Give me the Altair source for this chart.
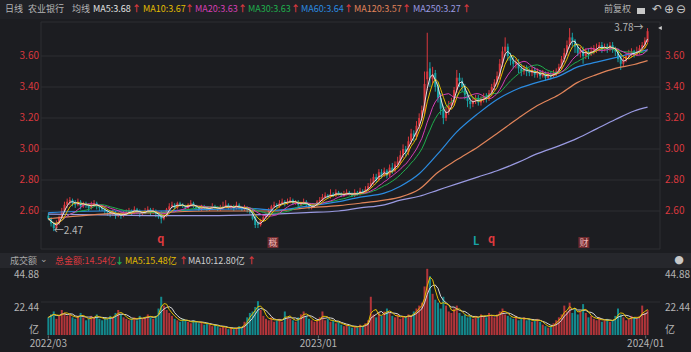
import altair as alt
import pandas as pd

# ---------------- data (2-trading-day candles, prices in cents) ----------------
closes = [
    255, 252, 249, 252,
    256, 260, 264, 266, 267,
    265, 264, 266, 263, 265, 264, 262, 264, 265, 263, 262,
    261, 260, 259, 258, 259, 257, 258, 257, 258, 259,
    260, 259, 261, 260, 258, 259, 260, 261, 259, 260, 258,
    256, 255, 257,
    261, 263, 264, 262, 265, 264, 263, 262, 264, 265, 263, 262, 261, 263, 262, 261, 262, 263, 262, 261,
    262, 263, 264, 262, 263, 262, 264, 262, 261, 262, 261, 259,
    255, 251, 251, 254, 256,
    258, 260, 263, 264, 263, 265, 266,
    265, 266, 267, 265, 266, 264, 265, 266,
    264, 262, 263, 264,
    266, 267, 269, 270, 269, 271, 270, 272, 271, 270, 271, 272, 271, 270, 272, 271, 273, 272, 274,
    276, 278, 282, 280, 285, 283, 286,
    283, 288, 286, 290,
    292, 296, 300, 298, 305, 310, 308, 315, 320, 325,
    342, 350,
    346, 348, 340,
    333, 326, 320, 324, 328, 330,
    338, 346, 344, 340,
    335, 331, 329,
    331, 333, 330, 332, 334, 333,
    336, 340, 343, 347, 355,
    363, 366, 360,
    357, 355, 356, 352, 350, 352, 350,
    349, 351, 348, 350, 347, 349, 346, 348, 347, 349, 350, 353,
    358, 362, 367, 372, 370, 366,
    362, 364, 360, 363, 361, 363, 365,
    365, 367, 364, 366, 365, 367, 364, 363,
    358, 355, 357, 360,
    361, 363, 361, 363,
    365, 367, 370, 376,
]
opens = [
    257, 255, 252, 249,
    252, 256, 260, 264, 266,
    267, 265, 264, 266, 263, 265, 264, 262, 264, 265, 263,
    262, 261, 260, 259, 258, 259, 257, 258, 257, 258,
    259, 260, 259, 261, 260, 258, 259, 260, 261, 259, 260,
    258, 259, 255,
    257, 261, 263, 264, 262, 265, 264, 263, 262, 264, 265, 263, 262, 261, 263, 262, 261, 262, 263, 262,
    261, 262, 263, 264, 262, 263, 262, 264, 262, 261, 262, 261,
    261, 256, 252, 251, 254,
    256, 258, 260, 263, 264, 263, 265,
    266, 265, 266, 267, 265, 266, 264, 265,
    266, 264, 262, 263,
    264, 266, 267, 269, 270, 269, 271, 270, 272, 271, 270, 271, 272, 271, 270, 272, 271, 273, 272,
    274, 276, 278, 282, 280, 285, 283,
    286, 283, 288, 286,
    290, 292, 296, 300, 298, 305, 310, 308, 315, 320,
    325, 345,
    352, 345, 349,
    341, 333, 326, 320, 324, 328,
    330, 338, 346, 344,
    340, 335, 331,
    329, 331, 333, 330, 332, 334,
    333, 336, 340, 343, 347,
    355, 363, 366,
    360, 357, 355, 356, 352, 350, 352,
    350, 349, 351, 348, 350, 347, 349, 346, 348, 347, 349, 350,
    353, 358, 362, 367, 372, 370,
    366, 362, 364, 360, 363, 361, 363,
    364, 365, 367, 364, 366, 365, 367, 364,
    363, 360, 355, 357,
    360, 361, 363, 361,
    363, 365, 367, 369,
]
highs = [
    259, 256, 253, 254,
    257, 262, 266, 268, 269,
    268, 267, 268, 267, 266, 266, 265, 266, 267, 266, 264,
    263, 262, 261, 260, 261, 260, 259, 259, 260, 261,
    262, 261, 263, 262, 261, 260, 262, 263, 262, 262, 261,
    259, 260, 258,
    262, 265, 266, 265, 266, 266, 265, 264, 265, 267, 266, 264, 263, 264, 264, 263, 263, 265, 264, 263,
    264, 266, 267, 265, 264, 264, 266, 265, 263, 264, 263, 262,
    262, 257, 253, 255, 257,
    259, 262, 264, 266, 265, 267, 268,
    267, 268, 269, 268, 267, 267, 266, 268,
    267, 265, 264, 265,
    267, 269, 271, 272, 271, 274, 272, 274, 273, 272, 273, 274, 273, 272, 274, 273, 275, 274, 276,
    278, 281, 284, 284, 287, 287, 288,
    287, 290, 291, 292,
    295, 299, 303, 302, 308, 313, 312, 318, 323, 328,
    350, 375,
    356, 353, 351,
    343, 336, 328, 327, 331, 333,
    340, 351, 349, 346,
    342, 337, 333,
    333, 335, 335, 334, 336, 336,
    338, 342, 345, 350, 358,
    366, 372, 368,
    362, 360, 358, 358, 355, 354, 354,
    352, 353, 353, 352, 351, 351, 350, 350, 350, 351, 352, 355,
    360, 365, 370, 378, 375, 371,
    368, 366, 366, 365, 365, 366, 367,
    368, 369, 369, 368, 368, 369, 369, 366,
    365, 362, 359, 362,
    364, 365, 364, 366,
    367, 369, 372, 378,
]
lows = [
    254, 250, 247, 248,
    251, 255, 259, 262, 264,
    263, 262, 263, 261, 262, 262, 260, 261, 263, 261, 260,
    260, 258, 257, 256, 257, 255, 256, 255, 256, 257,
    258, 257, 258, 258, 256, 257, 258, 259, 257, 258, 256,
    255, 252, 254,
    256, 260, 262, 261, 261, 263, 262, 261, 261, 263, 262, 261, 260, 260, 261, 260, 260, 261, 261, 260,
    260, 261, 262, 261, 261, 260, 261, 261, 260, 260, 259, 258,
    254, 249, 249, 250, 253,
    255, 257, 259, 262, 262, 262, 264,
    263, 264, 265, 264, 264, 263, 263, 264,
    263, 261, 261, 262,
    263, 265, 266, 268, 268, 268, 269, 269, 270, 269, 269, 270, 270, 269, 269, 270, 270, 271, 271,
    273, 275, 277, 278, 279, 281, 282,
    281, 282, 284, 285,
    288, 290, 294, 295, 296, 303, 305, 306, 313, 318,
    322, 338,
    340, 342, 337,
    330, 322, 316, 318, 322, 326,
    328, 336, 340, 337,
    332, 327, 326,
    327, 329, 328, 328, 330, 330,
    331, 334, 338, 341, 345,
    353, 360, 357,
    354, 352, 352, 349, 347, 348, 347,
    347, 347, 346, 346, 345, 346, 344, 345, 345, 346, 347, 349,
    351, 356, 360, 365, 366, 362,
    360, 359, 355, 358, 358, 360, 361,
    362, 363, 362, 363, 362, 363, 362, 360,
    356, 351, 353, 356,
    358, 359, 359, 360,
    361, 363, 365, 368,
]
# turnover, 亿元
volumes = [
    12, 14, 16, 11, 13,
    17, 15, 13, 14, 12, 11, 13, 15,
    12, 10, 11, 13, 12, 14, 11, 10,
    12, 11, 13, 12, 15, 17, 14, 12, 11, 10,
    11, 12, 10, 13, 11, 12, 14, 12, 11, 13,
    18, 26, 20, 17, 15,
    13, 11, 10, 9, 11, 10, 9, 8, 10, 9,
    8, 9, 7, 8, 7, 6, 7, 6,
    5, 6, 5, 4, 5, 4, 5, 6, 5,
    9, 12, 15, 16, 19, 23, 17, 13,
    11, 10, 12, 9, 10, 11, 9, 16, 12, 11,
    10, 9, 12, 14, 16, 13, 11, 10, 9, 10,
    12, 16, 10, 11, 9, 10, 8, 9, 7, 6, 7, 6, 5, 6, 5, 7, 6, 8,
    10, 26, 14, 12, 15, 13, 16,
    18, 15, 13, 12, 14, 11, 13, 12, 14, 13, 16, 18, 20, 22,
    33, 45, 40, 28, 24,
    22, 18, 26, 20, 16, 15,
    18, 20, 15, 13, 14, 12, 13, 11, 13, 12,
    14, 13, 12, 15, 13, 12, 14, 16, 18, 14,
    13, 12, 11, 13, 10, 11, 12, 10, 11, 9,
    10, 11, 9, 7, 6, 5, 6, 8, 10, 12,
    14, 20, 16, 22, 15, 18, 14, 16, 21, 15,
    12, 13, 11, 10, 12, 9, 10, 11, 9, 10,
    13, 18, 14, 12, 10, 11, 13, 12,
    11, 13, 20, 15, 17,
]

# long moving averages (candle index -> value)
ma_idx = [0, 20, 40, 60, 76, 84, 96, 108, 116, 125, 131, 138, 145, 152, 160, 167, 175, 182, 190, 197, 204, 211, 218, 223]
ma60 = [2.59, 2.60, 2.60, 2.61, 2.615, 2.605, 2.63, 2.66, 2.69, 2.715, 2.76, 2.84, 2.97, 3.11, 3.23, 3.32, 3.39, 3.43, 3.47, 3.53, 3.56, 3.59, 3.62, 3.64]
ma120 = [2.55, 2.58, 2.59, 2.60, 2.60, 2.60, 2.62, 2.635, 2.65, 2.67, 2.69, 2.74, 2.85, 2.93, 3.015, 3.10, 3.20, 3.28, 3.35, 3.43, 3.48, 3.52, 3.545, 3.57]
ma250 = [2.58, 2.575, 2.57, 2.57, 2.575, 2.58, 2.59, 2.60, 2.62, 2.64, 2.67, 2.695, 2.735, 2.775, 2.82, 2.86, 2.915, 2.97, 3.02, 3.07, 3.13, 3.19, 3.245, 3.27]

price_ticks = [2.60, 2.80, 3.00, 3.20, 3.40, 3.60]
vol_ticks = [44.88, 22.44]
date_idx = [0, 100.5, 222.3]
date_labels = ["2022/03", "2023/01", "2024/01"]
extreme_idx = [2, 223]
extreme_val = [2.47, 3.78]
marker_idx = [41.8, 83.6, 159.2, 164.9, 199.3]
marker_txt = ["q", "概", "L", "q", "财"]

# ---------------- styling ----------------
FONT = "Noto Sans CJK SC"
BG = "#1c1d21"
RED = "#d9383e"
TEAL = "#17a2a6"
VRED = "#b3353a"
VTEAL = "#138a8e"
GRID = "#2c2e33"
GRAY = "#b4b4b4"
C5, C10, C20, C30 = "#e2e2e2", "#e3bd00", "#d43fb4", "#1fae4c"
C60, C120, C250 = "#2b8be0", "#e0845a", "#9a9ae2"

W, H = 691, 352
SP = 2.7265
X0 = 44
xs = alt.Scale(domain=[-X0 / SP, (W - X0) / SP], nice=False, zero=False)
PPU = 155.0
ps = alt.Scale(domain=[3.60 - (H - 56) / PPU, 3.60 + 56 / PPU], nice=False, zero=False)
VPU = 33 / 22.44
vs = alt.Scale(domain=[-(H - 335) / VPU, 335 / VPU], nice=False, zero=False)

N = len(closes)
df = pd.DataFrame({
    "i": list(range(N)),
    "o": [v / 100 for v in opens],
    "h": [v / 100 for v in highs],
    "l": [v / 100 for v in lows],
    "c": [v / 100 for v in closes],
    "v": volumes,
})
df["cb"] = [c if c != o else c + 0.004 for o, c in zip(df["o"], df["c"])]
df["z"] = 0.0

X = alt.X("i:Q", scale=xs, axis=None)
up = alt.datum.c >= alt.datum.o
candle_col = alt.when(up).then(alt.value(RED)).otherwise(alt.value(TEAL))
vol_col = alt.when(up).then(alt.value(VRED)).otherwise(alt.value(VTEAL))

one = pd.DataFrame({"k": [0]})


def txt(s, x, y, color, size=9, align="left", weight="normal", font=FONT):
    return alt.Chart(one).mark_text(
        align=align, baseline="middle", fontSize=size, font=font,
        color=color, fontWeight=weight,
    ).encode(x=alt.value(x), y=alt.value(y), text=alt.value(s))


def box(x1, x2, y1, y2, fill, stroke=None):
    kw = {"fill": fill}
    if stroke is not None:
        kw = {"fill": "transparent", "stroke": stroke, "strokeWidth": 1}
    return alt.Chart(one).mark_rect(**kw).encode(
        x=alt.value(x1), x2=alt.value(x2), y=alt.value(y1), y2=alt.value(y2))


layers = []
# background bands
layers.append(box(0, W, 0, 19, "#202126"))
layers.append(box(0, W, 253, 268, "#26272c"))
layers.append(box(41, 660, 22, 249, None, stroke=GRID))

# price grid + labels
pt = pd.DataFrame({"t": price_ticks})
layers.append(alt.Chart(pt).mark_rule(color=GRID, strokeWidth=1).encode(
    y=alt.Y("t:Q", scale=ps, axis=None), x=alt.value(41), x2=alt.value(660)))
layers.append(alt.Chart(pt).mark_text(align="right", baseline="middle", fontSize=10, font=FONT, color=RED).encode(
    y=alt.Y("t:Q", scale=ps, axis=None), x=alt.value(39), text=alt.Text("t:Q", format=".2f")))
layers.append(alt.Chart(pt).mark_text(align="left", baseline="middle", fontSize=10, font=FONT, color=RED).encode(
    y=alt.Y("t:Q", scale=ps, axis=None), x=alt.value(665), text=alt.Text("t:Q", format=".2f")))

# candles
base = alt.Chart(df)
layers.append(base.mark_rule(strokeWidth=1).encode(
    x=X, y=alt.Y("l:Q", scale=ps, axis=None), y2="h:Q", color=candle_col))
layers.append(base.mark_bar(size=2).encode(
    x=X, y=alt.Y("o:Q", scale=ps, axis=None), y2="cb:Q", color=candle_col))

# long MAs
dma = pd.DataFrame({"i": ma_idx, "m60": ma60, "m120": ma120, "m250": ma250})
for fld, col in [("m250", C250), ("m120", C120), ("m60", C60)]:
    layers.append(alt.Chart(dma).mark_line(strokeWidth=1.2, color=col, interpolate="monotone").encode(
        x=X, y=alt.Y(f"{fld}:Q", scale=ps, axis=None)))

# short MAs computed from the closes
for name, frame, col in [("m30", 14, C30), ("m20", 9, C20), ("m10", 4, C10), ("m5", 2, C5)]:
    layers.append(base.transform_window(
        **{name: "mean(c)"}, frame=[-frame, 0], sort=[alt.SortField("i")]
    ).mark_line(strokeWidth=1, color=col).encode(x=X, y=alt.Y(f"{name}:Q", scale=ps, axis=None)))

# extreme labels
ex = pd.DataFrame({"i": extreme_idx, "p": extreme_val})
ex["t"] = ["←" + f"{extreme_val[0]:.2f}", f"{extreme_val[1]:.2f}" + "→"]
layers.append(alt.Chart(ex.iloc[[0]]).mark_text(align="left", baseline="middle", fontSize=10, font=FONT, color=GRAY).encode(
    x=X, y=alt.Y("p:Q", scale=ps, axis=None), text="t:N"))
layers.append(alt.Chart(ex.iloc[[1]]).mark_text(align="right", baseline="middle", fontSize=10, font=FONT, color=GRAY, dx=-4).encode(
    x=X, y=alt.Y("p:Q", scale=ps, axis=None), text="t:N"))
layers.append(alt.Chart(one).mark_point(shape="triangle-left", filled=True, size=18, color="#d0d0d0", opacity=1).encode(
    x=alt.value(660), y=alt.value(28)))

# event markers
mk = pd.DataFrame({"i": marker_idx, "t": marker_txt})
boxed = mk[mk["t"].isin(["概", "财"])]
plain_red = mk[mk["t"] == "q"]
plain_teal = mk[mk["t"] == "L"]
layers.append(alt.Chart(boxed).mark_point(shape="square", filled=True, size=120, color="#6e2a2f", opacity=1).encode(
    x=X, y=alt.value(242.5)))
layers.append(alt.Chart(boxed).mark_text(fontSize=9, font=FONT, color="#f0b4b4", baseline="middle").encode(
    x=X, y=alt.value(242.5), text="t:N"))
layers.append(alt.Chart(plain_red).mark_text(fontSize=11, font=FONT, color="#e03a3f", baseline="middle", fontWeight="bold").encode(
    x=X, y=alt.value(240), text="t:N"))
layers.append(alt.Chart(plain_teal).mark_text(fontSize=11, font=FONT, color="#17a2a6", baseline="middle", fontWeight="bold").encode(
    x=X, y=alt.value(242), text="t:N"))

# volume panel
vt = pd.DataFrame({"t": vol_ticks})
layers.append(alt.Chart(vt.iloc[[1]]).mark_rule(color=GRID, strokeWidth=1).encode(
    y=alt.Y("t:Q", scale=vs, axis=None), x=alt.value(41), x2=alt.value(660)))
layers.append(alt.Chart(vt).mark_text(align="right", baseline="middle", fontSize=10, font=FONT, color=GRAY, dy=6).encode(
    y=alt.Y("t:Q", scale=vs, axis=None), x=alt.value(39), text=alt.Text("t:Q", format=".2f")))
layers.append(alt.Chart(vt).mark_text(align="left", baseline="middle", fontSize=10, font=FONT, color=GRAY, dy=6).encode(
    y=alt.Y("t:Q", scale=vs, axis=None), x=alt.value(665), text=alt.Text("t:Q", format=".2f")))
layers.append(txt("亿", 39, 330, GRAY, size=10, align="right"))
layers.append(txt("亿", 665, 330, GRAY, size=10))
layers.append(base.mark_bar(size=2).encode(
    x=X, y=alt.Y("v:Q", scale=vs, axis=None), y2="z:Q", color=vol_col))
for name, frame, col in [("vm10", 4, "#d8d8d8"), ("vm5", 2, C10)]:
    layers.append(base.transform_window(
        **{name: "mean(v)"}, frame=[-frame, 0], sort=[alt.SortField("i")]
    ).mark_line(strokeWidth=1, color=col).encode(x=X, y=alt.Y(f"{name}:Q", scale=vs, axis=None)))

# date axis
dd = pd.DataFrame({"i": date_idx, "t": date_labels})
layers.append(alt.Chart(dd).mark_tick(orient="vertical", size=3, thickness=1, color="#8a8a8a").encode(
    x=X, y=alt.value(337)))
layers.append(alt.Chart(dd).mark_text(baseline="middle", fontSize=10, font=FONT, color=GRAY).encode(
    x=X, y=alt.value(344), text="t:N"))

# header texts
layers += [
    txt("日线", 5, 9, GRAY), txt("农业银行", 28, 9, GRAY), txt("均线", 72, 9, GRAY),
    txt("MA5:3.68", 93, 9, C5), txt("↑", 132, 9, RED, weight="bold"),
    txt("MA10:3.67", 143, 9, C10), txt("↑", 185, 9, RED, weight="bold"),
    txt("MA20:3.63", 195, 9, C20), txt("↑", 238, 9, RED, weight="bold"),
    txt("MA30:3.63", 248, 9, C30), txt("↑", 291, 9, RED, weight="bold"),
    txt("MA60:3.64", 301, 9, C60), txt("↑", 344, 9, RED, weight="bold"),
    txt("MA120:3.57", 354, 9, C120), txt("↑", 402, 9, RED, weight="bold"),
    txt("MA250:3.27", 413, 9, C250), txt("↑", 462, 9, RED, weight="bold"),
    txt("前复权", 604, 9, GRAY),
    txt("↶", 652, 9, "#c8c8c8", size=12, font="DejaVu Sans"),
    txt("⊕", 664, 9, "#c8c8c8", size=12, font="DejaVu Sans"),
    txt("⊖", 676, 9, "#c8c8c8", size=12, font="DejaVu Sans"),
    box(637, 645, 8, 14, "#c8c8c8"),
    txt("成交额", 10, 261, "#a8a8a8"), txt("⌄", 40, 259, "#a8a8a8", font="DejaVu Sans"),
    txt("总金额:14.54亿", 55, 261, RED), txt("↓", 115, 261, "#1fb04f", weight="bold"),
    txt("MA5:15.48亿", 125, 261, C10), txt("↑", 179, 261, RED, weight="bold"),
    txt("MA10:12.80亿", 188, 261, "#cfcfcf"), txt("↑", 247, 261, RED, weight="bold"),
    txt("●", 679, 260, "#c8c8c8", size=11, align="center", font="DejaVu Sans"),
]

chart = alt.layer(*layers).resolve_scale(y="independent").properties(
    width=W, height=H, autosize=alt.AutoSizeParams(type="none"), padding=0, background=BG,
).configure_view(stroke=None)

chart.save("out.html", embed_options={"renderer": "svg", "actions": False})
